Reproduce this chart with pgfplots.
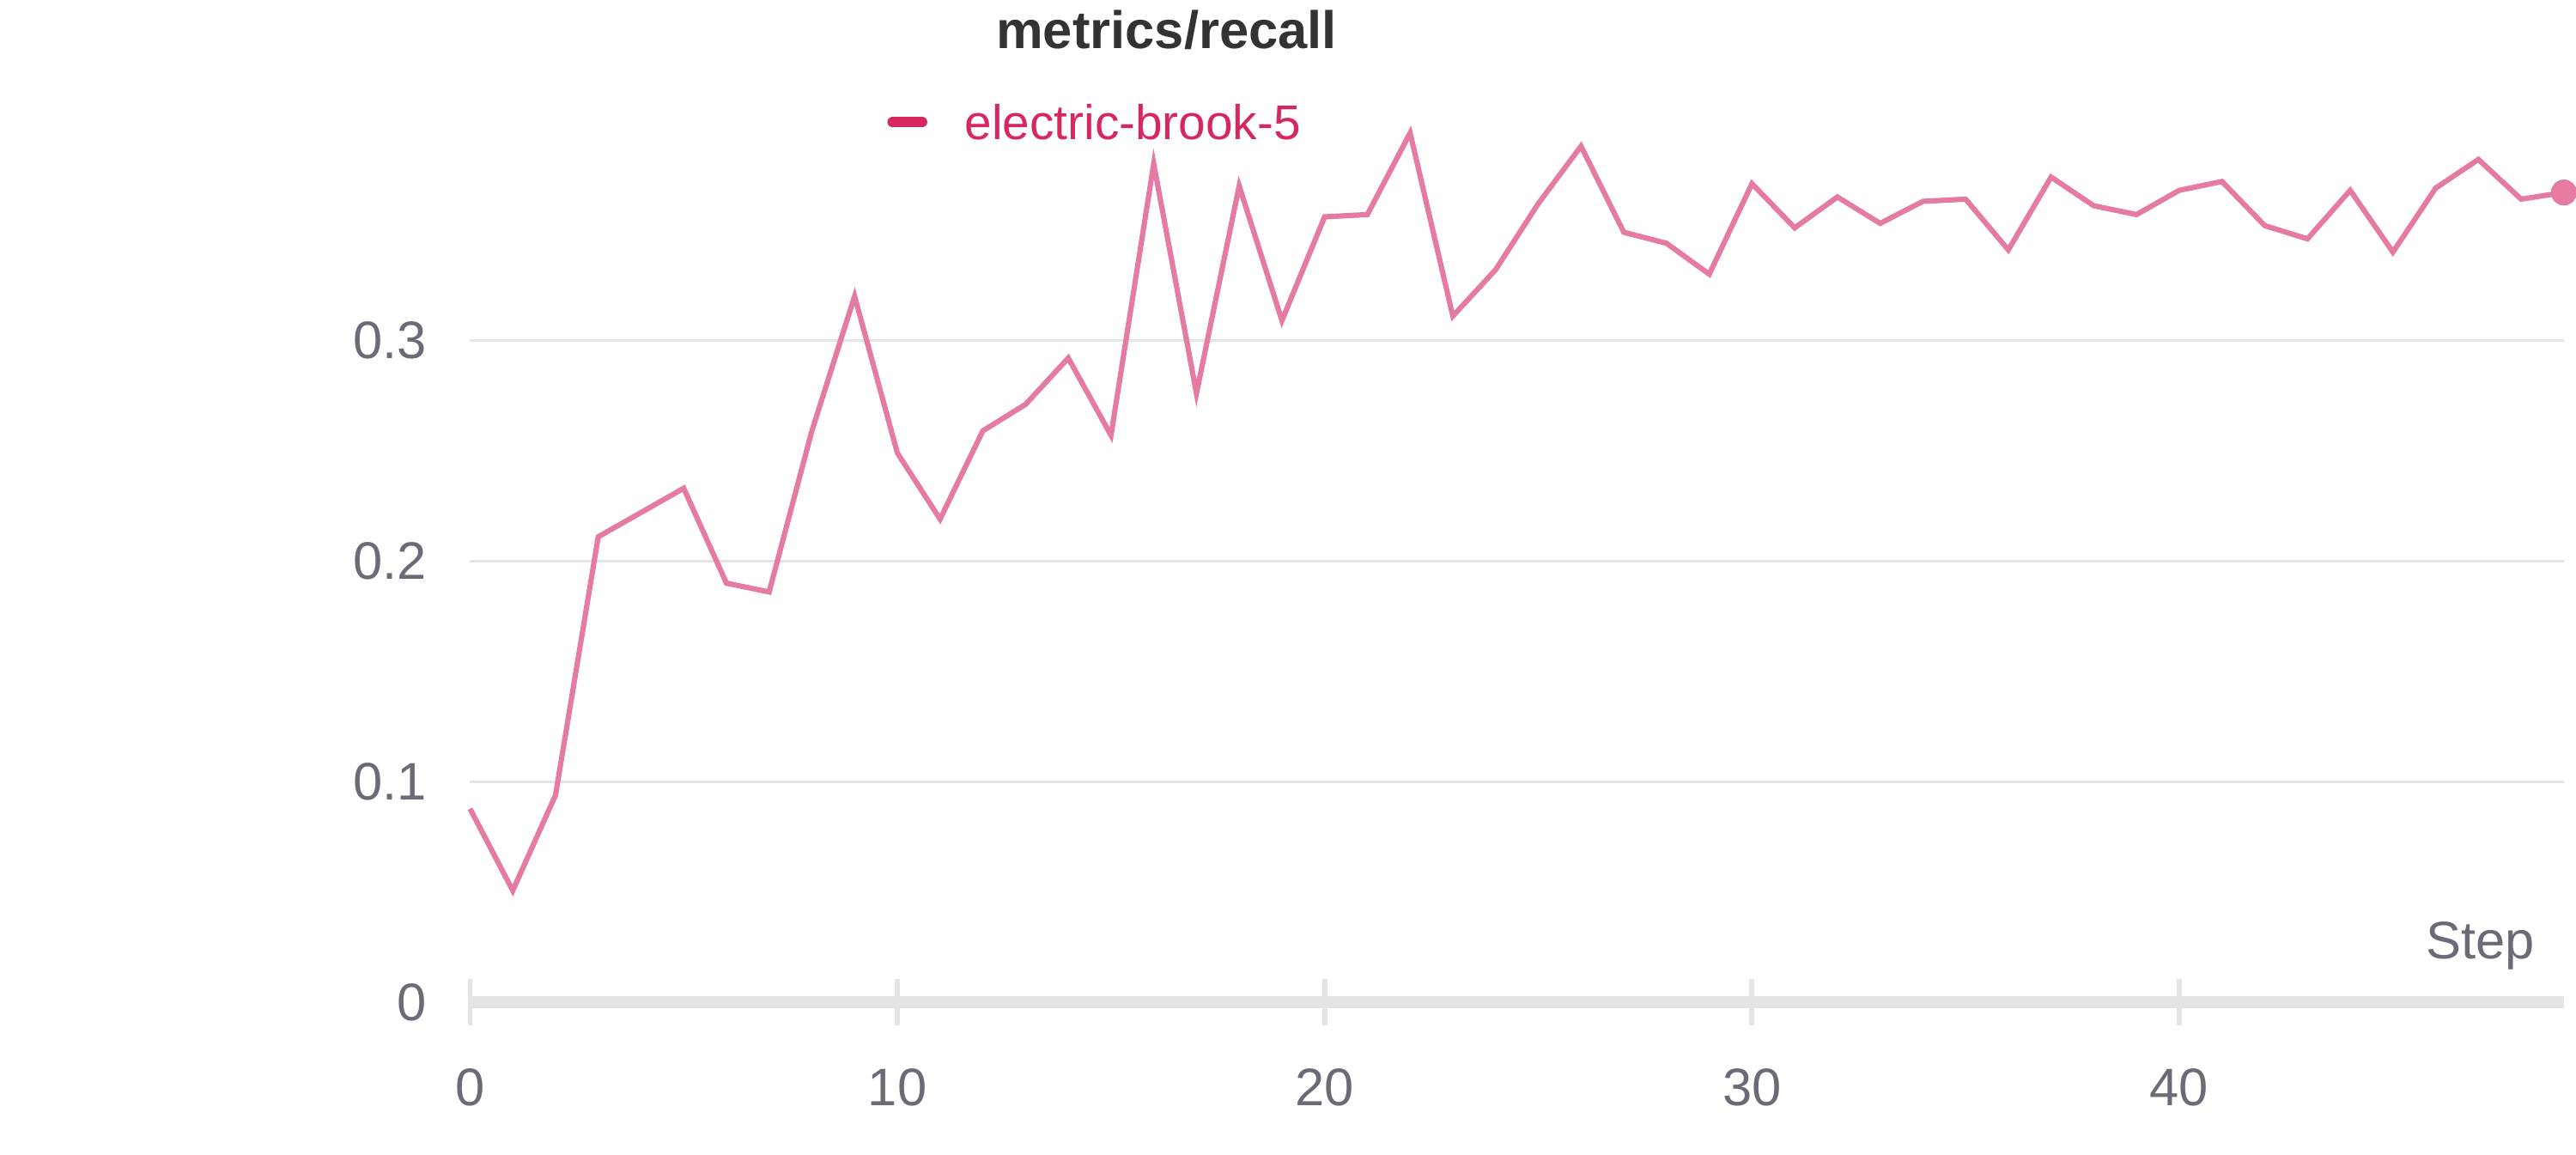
\documentclass[border=0pt]{standalone}
\usepackage{pgfplots}
\pgfplotsset{compat=1.18}
\usepackage{fontspec}
\setmainfont{Liberation Sans}
\definecolor{line}{HTML}{E57AA3}
\definecolor{leg}{HTML}{D6285F}
\definecolor{tick}{HTML}{6B6B78}
\definecolor{gridc}{HTML}{E4E4E4}
\begin{document}
\begin{tikzpicture}[x=0.0129cm,y=0.0129cm]
\begin{axis}[
  at={(110,69)}, anchor=origin,
  scale only axis, width=18.12cm, height=7.83cm,
  xmin=0, xmax=49, ymin=0, ymax=0.41,
  clip=false,
  axis line style={draw=none},
  xtick={0,10,20,30,40}, ytick={0,0.1,0.2,0.3},
  yticklabels={0,0.1,0.2,0.3},
  ymajorgrids, grid style={gridc, line width=0.6pt},
  major tick length=0pt,
  tick label style={font=\fontsize{13}{13}\selectfont, text=tick},
  /pgf/number format/assume math mode=true,
  xticklabel style={yshift=-0.45cm},
  yticklabel style={xshift=-0.25cm},
]
\addplot[line, line width=1.3pt, mark=none] coordinates {
(0,0.0878)(1,0.0507)(2,0.0939)(3,0.211)(4,0.222)(5,0.233)(6,0.190)(7,0.186)
(8,0.259)(9,0.320)(10,0.249)(11,0.219)(12,0.259)(13,0.271)(14,0.292)(15,0.257)
(16,0.380)(17,0.276)(18,0.370)(19,0.309)(20,0.356)(21,0.357)(22,0.394)(23,0.311)
(24,0.332)(25,0.362)(26,0.388)(27,0.349)(28,0.344)(29,0.330)(30,0.371)(31,0.351)
(32,0.365)(33,0.353)(34,0.363)(35,0.364)(36,0.341)(37,0.374)(38,0.361)(39,0.357)
(40,0.368)(41,0.372)(42,0.352)(43,0.346)(44,0.368)(45,0.340)(46,0.369)(47,0.382)
(48,0.364)(49,0.367)};
\addplot[line, only marks, mark=*, mark size=3pt] coordinates {(49,0.367)};
\draw[gridc, line width=3pt] (rel axis cs:0,0) -- (rel axis cs:1,0);
\pgfplotsinvokeforeach{0,10,20,30,40}{\draw[gridc, line width=1.2pt] ([yshift=-0.2cm]axis cs:#1,0) -- ([yshift=0.2cm]axis cs:#1,0);}
\node[anchor=south east, text=tick, font=\fontsize{13}{13}\selectfont] at (rel axis cs:0.993,0.02) {Step};
\end{axis}
\path[use as bounding box] (0,0) rectangle (1550,775);
\node[font=\bfseries\fontsize{13}{13}\selectfont, text=black!80] at (783,755) {metrics/recall};
\draw[leg, line width=2.5pt, line cap=round] (599,693) -- (619,693);
\node[anchor=west, text=leg, font=\fontsize{12}{12}\selectfont] at (638,693) {electric-brook-5};
\end{tikzpicture}
\end{document}
